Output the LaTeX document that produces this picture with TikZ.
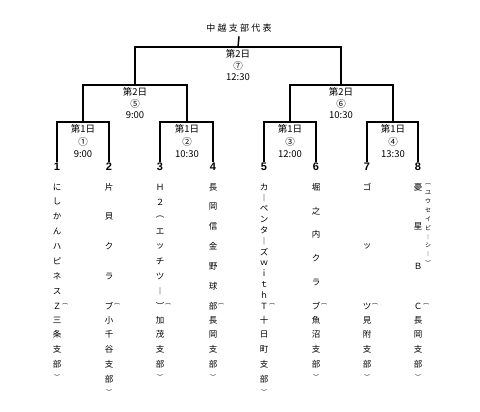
\documentclass[tikz,border=0pt]{standalone}
\usepackage{fontspec}
\setmainfont{Noto Sans CJK JP}
\newfontfamily\numfont{Liberation Sans}
\usepackage{tikz}

\begin{document}
\begin{tikzpicture}[x=1pt,y=-1pt,every node/.style={font=\fontsize{10}{12}\selectfont,inner sep=0pt},
    bracket/.style={line width=1.5pt},
    match/.style={anchor=north,align=center,inner sep=2.5pt,font=\fontsize{9.5}{11.5}\selectfont},
    seed/.style={anchor=north,inner sep=1pt,font=\numfont\bfseries\fontsize{11}{11}\selectfont},
    kana/.style={font=\fontsize{8.5}{8.5}\selectfont},
    kakko/.style={font=\fontsize{6}{6}\selectfont},
    ruby/.style={font=\fontsize{6}{6}\selectfont}]
  \useasboundingbox (0,0) rectangle (480,412);
  \node[inner sep=4pt,font=\fontsize{9}{9}\selectfont\addfontfeature{LetterSpace=25}] (champ) at (239,28) {中越支部代表};
  \node[match] (m7) at (238,47) {第2日\\⑦\\12:30};
  \node[match] (m5) at (135,85) {第2日\\⑤\\9:00};
  \node[match] (m6) at (341,85) {第2日\\⑥\\10:30};
  \node[match,font=\fontsize{9.5}{12.5}\selectfont] (m1) at (83,122) {第1日\\①\\9:00};
  \node[match,font=\fontsize{9.5}{12.5}\selectfont] (m2) at (187,122) {第1日\\②\\10:30};
  \node[match,font=\fontsize{9.5}{12.5}\selectfont] (m3) at (290,122) {第1日\\③\\12:00};
  \node[match,font=\fontsize{9.5}{12.5}\selectfont] (m4) at (393,122) {第1日\\④\\13:30};
  \foreach \x [count=\k] in {57,109,160,213,264,316,367,418}
    \node[seed] (n\k) at (\x,162) {\k};
  \draw[bracket] (n1.north) |- (m1.north) -| (n2.north);
  \draw[bracket] (n3.north) |- (m2.north) -| (n4.north);
  \draw[bracket] (n5.north) |- (m3.north) -| (n6.north);
  \draw[bracket] (n7.north) |- (m4.north) -| (n8.north);
  \draw[bracket] (m1.north) |- (m5.north) -| (m2.north);
  \draw[bracket] (m3.north) |- (m6.north) -| (m4.north);
  \draw[bracket] (m5.north) |- (m7.north) -| (m6.north);
  \draw[bracket] (m7.north) -- (champ.south);
  \foreach \x/\n/\name/\m/\branch [count=\k] in {
      57/9/{に,し,か,ん,ハ,ピ,ネ,ス,Ｚ}/4/{三,条,支,部},
      109/5/{片,貝,ク,ラ,ブ}/5/{小,千,谷,支,部},
      160/9/{Ｈ,２,︵,エ,ッ,チ,ツ,︱,︶}/4/{加,茂,支,部},
      213/7/{長,岡,信,金,野,球,部}/4/{長,岡,支,部},
      264/12/{カ,︱,ペ,ン,タ,︱,ズ,ｗ,ｉ,ｔ,ｈ,Ｔ}/5/{十,日,町,支,部},
      316/6/{堀,之,内,ク,ラ,ブ}/4/{魚,沼,支,部},
      367/3/{ゴ,ッ,ツ}/4/{見,附,支,部},
      418/4/{憂,星,Ｂ,Ｃ}/4/{長,岡,支,部}}{
    \foreach \c [count=\i] in \name
      \node[kana] (t\k-\i) at (\x,{187+(\i-1)*119/(\n-1)}) {\c};
    \node[kakko] (open\k) at (\x+8,304) {︵};
    \foreach \c [count=\i] in \branch
      \node[kana] (b\k-\i) at (\x,{320+(\i-1)*14.7}) {\c};
    \node[kakko] (close\k) at (\x,{318+\m*14.7}) {︶};
  }
  \foreach \c [count=\i] in {︵,ユ,ウ,セ,イ,ビ,︱,シ,︱,︶}
    \node[ruby] (r\i) at (428,{184+(\i-1)*8.8}) {\c};
\end{tikzpicture}
\end{document}
